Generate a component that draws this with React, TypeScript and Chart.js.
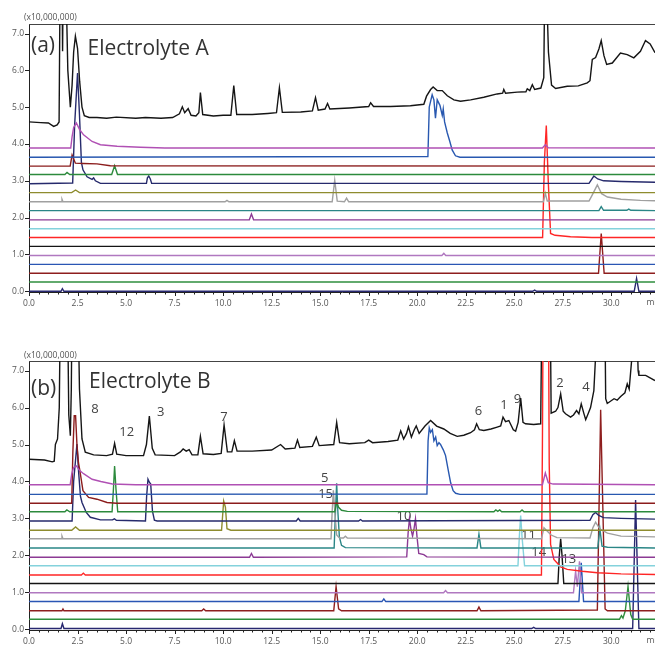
import { useEffect, useRef } from 'react';
import { Chart, registerables } from 'chart.js';
Chart.register(...registerables);

// ---------- axes ----------
const X_MAX = 32.25;
const Y_MIN = -0.02;
const Y_MAX = 7.26;
const X_MAJOR = [0, 2.5, 5, 7.5, 10, 12.5, 15, 17.5, 20, 22.5, 25, 27.5, 30];
const Y_TICKS = [0, 1, 2, 3, 4, 5, 6, 7];

// ---------- colours (top trace to bottom trace) ----------
const TIC_COLOR = '#151515';
const TRACE_COLORS = [
  '#b050b4', '#2858b0', '#8b1c1c', '#2c8a3c', '#262a6c', '#8e8c2e', '#a0a0a0', '#2a8686',
  '#8c3a94', '#84d2dc', '#ff2626', '#141414', '#b078c0', '#2a56b4', '#8e1e1e', '#2e8e3c', '#282870',
];

// ---------- Panel (a) Electrolyte A : [time, intensity(x1e7)] pairs ----------
const A_TIC = [0,4.60, 0.6,4.58, 1.0,4.57, 1.27,4.48, 1.45,4.52, 1.55,4.6, 1.61,9, 1.69,9, 1.73,6.52, 1.77,9, 1.88,9, 2.0,6.0, 2.13,5.0, 2.22,5.6, 2.3,6.5, 2.39,6.93, 2.5,6.6, 2.61,5.7, 2.73,5.0, 2.85,4.77, 3.1,4.72, 3.5,4.72, 4.0,4.70, 4.5,4.73, 5.5,4.70, 6.0,4.72, 6.8,4.70, 7.4,4.72, 7.75,4.82, 7.9,5.01, 8.02,4.85, 8.2,4.96, 8.35,4.78, 8.6,4.76, 8.75,4.85, 8.83,5.40, 8.95,4.8, 9.5,4.76, 10.0,4.78, 10.4,4.78, 10.55,5.59, 10.7,4.80, 11.5,4.80, 12.3,4.83, 12.75,4.85, 12.9,5.53, 13.05,4.86, 14.0,4.87, 14.6,4.90, 14.76,5.26, 14.9,4.92, 15.25,4.95, 15.38,5.1, 15.5,4.95, 16.5,4.98, 17.5,5.02, 17.6,5.12, 17.75,5.02, 18.62,5.02, 19.65,5.04, 20.34,5.08, 20.48,5.30, 20.69,5.48, 20.82,5.55, 21.03,5.45, 21.29,5.45, 21.55,5.31, 21.89,5.20, 22.23,5.16, 22.75,5.20, 23.43,5.27, 24.12,5.36, 24.4,5.38, 24.46,5.48, 24.55,5.38, 25.15,5.41, 25.6,5.42, 25.67,5.5, 25.8,5.45, 25.93,5.61, 26.05,5.48, 26.37,5.52, 26.52,5.8, 26.57,8.5, 26.65,8.5, 26.76,6.5, 26.92,5.6, 27.13,5.51, 27.73,5.57, 28.3,5.58, 28.76,5.66, 28.9,5.72, 29.02,6.3, 29.19,6.35, 29.36,6.58, 29.48,6.81, 29.62,6.4, 29.76,6.16, 30.05,6.2, 30.47,6.47, 30.82,6.43, 31.16,6.34, 31.5,6.52, 31.76,6.81, 32.0,6.72, 32.25,6.48];
const A_MAG = [0,3.89, 2.15,3.89, 2.22,4.2, 2.3,4.45, 2.44,4.57, 2.6,4.4, 2.81,4.25, 3.25,4.07, 3.68,3.98, 4.54,3.94, 5.74,3.91, 7,3.89, 26.45,3.89, 26.6,3.98, 26.75,3.9, 32.25,3.89];
const A_BLUE = [0,3.64, 20.55,3.66, 20.62,5.0, 20.77,5.34, 20.86,5.2, 20.94,4.70, 21.03,5.2, 21.17,5.05, 21.29,4.78, 21.34,4.95, 21.41,4.6, 21.55,4.30, 21.68,4.07, 21.8,3.84, 21.97,3.68, 22.2,3.64, 32.25,3.64];
const A_DRED = [0,3.40, 2.12,3.40, 2.22,3.70, 2.39,3.48, 2.8,3.47, 3.5,3.46, 4.19,3.41, 32.25,3.40];
const A_GRN = [0,3.17, 1.85,3.17, 1.96,3.23, 2.1,3.17, 4.26,3.17, 4.41,3.41, 4.56,3.17, 32.25,3.17];
const A_NAVY = [0,2.92, 2.25,2.94, 2.35,4.5, 2.5,5.93, 2.6,4.8, 2.7,3.5, 2.78,3.30, 2.99,3.11, 3.25,3.04, 3.33,3.08, 3.42,3.0, 3.68,2.93, 6.05,2.93, 6.1,3.08, 6.17,3.13, 6.25,3.05, 6.32,2.93, 28.85,2.93, 29.1,3.13, 29.3,3.05, 29.6,3.0, 30.5,2.98, 32.25,2.96];
const A_OLIVE = [0,2.68, 2.2,2.68, 2.4,2.75, 2.6,2.68, 32.25,2.68];
const A_GRAY = [0,2.43, 1.65,2.43, 1.7,2.5, 1.75,2.43, 10.1,2.43, 10.2,2.47, 10.3,2.43, 15.62,2.43, 15.75,3.02, 15.88,2.45, 16.25,2.43, 16.36,2.53, 16.47,2.43, 26.5,2.43, 26.6,2.66, 26.7,2.45, 28.85,2.45, 29.0,2.6, 29.28,2.89, 29.5,2.65, 29.8,2.56, 30.5,2.5, 31.5,2.47, 32.25,2.46];
const A_TEAL = [0,2.19, 29.36,2.19, 29.48,2.30, 29.6,2.2, 30.8,2.2, 30.9,2.23, 31.0,2.2, 32.25,2.19];
const A_PURP = [0,1.94, 11.35,1.94, 11.46,2.10, 11.57,1.94, 32.25,1.94];
const A_CYAN = [0,1.70, 32.25,1.70];
const A_RED = [0,1.46, 26.46,1.46, 26.55,3.5, 26.65,4.50, 26.75,3.0, 26.87,1.57, 27.1,1.52, 27.9,1.48, 29.0,1.46, 32.25,1.46];
const A_BLK = [0,1.22, 32.25,1.22];
const A_LAV = [0,0.97, 21.27,0.97, 21.37,1.03, 21.47,0.97, 32.25,0.97];
const A_BLUE2 = [0,0.73, 32.25,0.73];
const A_DRED2 = [0,0.49, 29.34,0.49, 29.48,1.57, 29.63,0.49, 32.25,0.49];
const A_GRN2 = [0,0.25, 32.25,0.25];
const A_NAVY2 = [0,0.0, 1.65,0.0, 1.72,0.07, 1.8,0.0, 25.95,0.0, 26.05,0.03, 26.15,0.0, 31.18,0.0, 31.3,0.35, 31.42,0.0, 32.25,0.0];

// ---------- Panel (b) Electrolyte B ----------
const B_TIC = [0,4.60, 0.8,4.58, 1.2,4.53, 1.3,4.55, 1.36,5.0, 1.47,5.15, 1.56,6.0, 1.62,9, 1.98,9, 2.05,5.8, 2.13,5.24, 2.18,6.5, 2.22,9, 2.52,9, 2.6,6.5, 2.73,5.15, 2.9,4.79, 3.33,4.72, 4.0,4.70, 4.3,4.74, 4.41,5.03, 4.52,4.74, 5.0,4.70, 5.9,4.70, 6.05,5.0, 6.2,5.77, 6.35,4.9, 6.5,4.72, 7.5,4.70, 7.8,4.8, 7.94,4.88, 8.1,4.82, 8.25,4.86, 8.4,4.72, 8.7,4.72, 8.83,5.22, 8.97,4.75, 9.5,4.73, 9.9,4.76, 10.05,5.53, 10.22,4.80, 10.45,4.8, 10.58,5.1, 10.72,4.82, 11.5,4.82, 12.5,4.85, 12.96,5.0, 13.2,4.88, 13.7,4.9, 13.83,5.12, 13.95,4.92, 14.6,4.95, 14.8,5.2, 14.95,4.97, 15.7,5.0, 15.85,5.6, 16.0,5.05, 16.5,5.02, 17.3,5.05, 17.5,5.12, 17.7,5.05, 18.5,5.08, 19.0,5.12, 19.15,5.37, 19.3,5.15, 19.45,5.3, 19.55,5.48, 19.7,5.2, 19.85,5.4, 19.95,5.5, 20.1,5.3, 20.4,5.5, 20.69,5.65, 21.0,5.5, 21.37,5.42, 21.7,5.3, 22.06,5.22, 22.4,5.25, 22.75,5.32, 22.95,5.4, 23.06,5.56, 23.2,5.4, 23.43,5.38, 23.8,5.42, 24.12,5.47, 24.3,5.5, 24.42,5.74, 24.55,5.62, 24.72,5.65, 24.95,5.4, 25.07,5.36, 25.2,5.6, 25.33,6.26, 25.45,5.6, 25.58,5.56, 26.0,5.54, 26.36,5.56, 26.44,9.5, 26.84,9.5, 26.9,5.85, 27.13,5.9, 27.25,6.0, 27.39,6.37, 27.52,5.9, 27.64,5.83, 27.9,5.74, 28.05,5.8, 28.21,5.92, 28.33,5.83, 28.45,6.10, 28.58,5.85, 28.68,5.67, 28.82,5.85, 28.93,6.0, 29.1,6.46, 29.2,7.5, 29.28,9.5, 29.65,9.5, 29.71,6.24, 29.79,6.11, 30.14,6.24, 30.3,6.2, 30.48,6.3, 30.7,6.4, 30.82,6.64, 30.92,6.5, 31.05,7.3, 31.15,9, 31.28,9, 31.38,7.0, 31.42,6.87, 31.77,6.87, 32.25,6.73];
const B_MAG = [0,3.91, 2.12,3.91, 2.2,4.2, 2.3,4.38, 2.44,4.42, 2.6,4.3, 2.81,4.21, 3.25,4.06, 3.7,4.0, 4.3,3.93, 5.5,3.91, 26.45,3.91, 26.6,4.23, 26.75,3.97, 27.0,3.93, 32.25,3.91];
const B_BLUE = [0,3.65, 20.5,3.66, 20.56,5.1, 20.62,5.45, 20.69,5.33, 20.78,5.4, 20.86,5.1, 20.95,5.2, 21.03,4.97, 21.12,5.05, 21.2,5.0, 21.35,4.85, 21.46,4.70, 21.6,4.3, 21.72,3.97, 21.85,3.75, 21.98,3.68, 22.2,3.65, 32.25,3.65];
const B_DRED = [0,3.41, 2.2,3.41, 2.26,4.8, 2.33,5.78, 2.4,5.78, 2.47,5.0, 2.55,4.5, 2.61,4.33, 2.78,3.75, 3.07,3.57, 3.5,3.52, 4.02,3.43, 4.5,3.41, 32.25,3.41];
const B_GRN = [0,3.18, 1.85,3.18, 1.95,3.23, 2.1,3.18, 4.28,3.18, 4.35,3.8, 4.41,4.42, 4.48,3.8, 4.57,3.18, 15.75,3.18, 15.85,3.43, 15.95,3.3, 16.1,3.22, 16.4,3.19, 23.95,3.18, 24.05,3.23, 24.15,3.19, 24.25,3.23, 24.35,3.18, 25.3,3.18, 25.4,3.23, 25.5,3.18, 32.25,3.18];
const B_NAVY = [0,2.93, 2.22,2.93, 2.3,4.0, 2.47,5.01, 2.55,4.3, 2.65,3.6, 2.73,3.43, 2.95,3.16, 3.16,3.03, 3.68,2.96, 4.3,2.96, 4.4,2.99, 4.5,2.95, 6.0,2.93, 6.06,3.6, 6.13,4.06, 6.2,3.98, 6.27,3.93, 6.36,3.2, 6.46,2.95, 6.6,2.93, 13.77,2.93, 13.87,3.0, 13.97,2.93, 16.98,2.93, 17.08,2.97, 17.18,2.93, 28.9,2.95, 29.05,3.1, 29.19,3.16, 29.35,3.08, 29.6,3.02, 30.5,3.0, 32.25,2.98];
const B_OLIVE = [0,2.68, 2.2,2.68, 2.4,2.77, 2.6,2.68, 9.92,2.68, 10.03,3.47, 10.12,3.3, 10.2,2.72, 10.4,2.68, 32.25,2.68];
const B_GRAY = [0,2.45, 1.65,2.45, 1.7,2.52, 1.75,2.45, 15.56,2.45, 15.62,3.2, 15.68,3.76, 15.75,3.2, 15.85,2.55, 16.0,2.47, 16.2,2.47, 16.3,2.52, 16.4,2.47, 26.4,2.45, 26.53,2.75, 26.65,2.68, 26.9,2.55, 27.2,2.48, 28.9,2.47, 29.05,2.75, 29.19,2.90, 29.4,2.72, 29.8,2.6, 30.5,2.52, 32.25,2.5];
const B_TEAL = [0,2.20, 15.72,2.20, 15.79,3.2, 15.85,3.95, 15.91,3.2, 15.99,2.5, 16.1,2.27, 16.3,2.21, 23.08,2.2, 23.18,2.57, 23.28,2.2, 29.3,2.2, 29.41,2.72, 29.52,2.25, 29.8,2.22, 32.25,2.2];
const B_PURP = [0,1.95, 11.36,1.95, 11.46,2.05, 11.56,1.95, 19.46,1.96, 19.53,2.6, 19.6,2.99, 19.68,2.7, 19.76,2.52, 19.83,2.7, 19.91,2.99, 19.99,2.5, 20.08,2.05, 20.34,2.02, 20.5,1.96, 32.25,1.95];
const B_CYAN = [0,1.72, 25.19,1.72, 25.26,2.5, 25.33,3.08, 25.4,2.5, 25.53,1.72, 32.25,1.72];
const B_RED = [0,1.47, 2.7,1.47, 2.8,1.52, 2.9,1.47, 26.4,1.47, 26.45,5.0, 26.5,10, 26.75,10, 26.8,4.5, 26.87,2.3, 27.04,1.89, 27.39,1.69, 27.73,1.62, 28.5,1.57, 29.28,1.53, 30.5,1.50, 32.25,1.48];
const B_BLK = [0,1.24, 27.25,1.24, 27.32,2.0, 27.39,2.45, 27.46,2.0, 27.55,1.24, 32.25,1.24];
const B_LAV = [0,0.99, 21.36,0.99, 21.46,1.05, 21.56,0.99, 28.05,0.99, 28.16,1.57, 28.25,1.15, 28.36,1.84, 28.47,0.99, 32.25,0.99];
const B_BLUE2 = [0,0.75, 18.18,0.75, 18.28,0.82, 18.38,0.75, 28.33,0.75, 28.45,1.80, 28.57,0.75, 32.25,0.75];
const B_DRED2 = [0,0.50, 1.7,0.50, 1.75,0.55, 1.8,0.5, 8.9,0.5, 9.0,0.55, 9.1,0.5, 15.7,0.5, 15.82,1.15, 15.95,0.55, 16.1,0.5, 23.08,0.5, 23.18,0.6, 23.28,0.5, 29.28,0.52, 29.45,5.94, 29.68,0.55, 29.8,0.5, 32.25,0.5];
const B_GRN2 = [0,0.27, 30.42,0.27, 30.52,0.37, 30.6,0.3, 30.72,0.5, 30.86,1.16, 31.0,0.4, 31.1,0.27, 32.25,0.27];
const B_NAVY2 = [0,0.02, 1.65,0.02, 1.72,0.15, 1.8,0.02, 25.9,0.02, 26.0,0.05, 26.1,0.02, 31.1,0.02, 31.25,3.50, 31.42,0.02, 32.25,0.02];

const A_TRACES = [A_MAG, A_BLUE, A_DRED, A_GRN, A_NAVY, A_OLIVE, A_GRAY, A_TEAL, A_PURP, A_CYAN, A_RED, A_BLK, A_LAV, A_BLUE2, A_DRED2, A_GRN2, A_NAVY2];
const B_TRACES = [B_MAG, B_BLUE, B_DRED, B_GRN, B_NAVY, B_OLIVE, B_GRAY, B_TEAL, B_PURP, B_CYAN, B_RED, B_BLK, B_LAV, B_BLUE2, B_DRED2, B_GRN2, B_NAVY2];

// peak numbers in panel (b): label, time, intensity
const B_PEAK_TEXT = ['8', '12', '3', '7', '6', '1', '9', '2', '4', '5', '15', '10', '11', '14', '13'];
const B_PEAK_T = [3.40, 5.03, 6.79, 10.05, 23.15, 24.47, 25.17, 27.35, 28.69, 15.24, 15.28, 19.32, 25.73, 26.26, 27.81];
const B_PEAK_V = [5.94, 5.33, 5.86, 5.73, 5.91, 6.05, 6.23, 6.66, 6.56, 4.09, 3.66, 3.05, 2.55, 2.09, 1.89];

const FONT = '"Open Sans", "Noto Sans", sans-serif';

function toPoints(arr: number[]) {
  const out: { x: number; y: number }[] = [];
  for (let i = 0; i < arr.length; i += 2) out.push({ x: arr[i], y: arr[i + 1] });
  return out;
}

const decor = {
  id: 'decor',
  beforeDatasetsDraw(chart: any, _args: any, opts: any) {
    const { ctx, chartArea, scales } = chart;
    ctx.save();
    ctx.strokeStyle = '#444';
    ctx.lineWidth = 1;
    ctx.beginPath();
    ctx.moveTo(chartArea.left, chartArea.top + 0.5);
    ctx.lineTo(chartArea.right, chartArea.top + 0.5);
    ctx.stroke();
    ctx.fillStyle = '#555';
    ctx.font = `8.5px ${FONT}`;
    ctx.textAlign = 'left';
    ctx.textBaseline = 'middle';
    ctx.fillText('(x10,000,000)', 24, opts.multY);
    ctx.fillStyle = '#333';
    ctx.textBaseline = 'alphabetic';
    ctx.font = `21px ${FONT}`;
    ctx.fillText(opts.letter, 31, opts.letterY);
    ctx.fillText(opts.title, opts.titleX, opts.titleY);
    ctx.font = `13px ${FONT}`;
    ctx.fillStyle = '#444';
    ctx.textAlign = 'center';
    ctx.textBaseline = 'middle';
    const txt: string[] = opts.peakText || [];
    for (let i = 0; i < txt.length; i++) {
      ctx.fillText(txt[i], scales.x.getPixelForValue(opts.peakT[i]), scales.y.getPixelForValue(opts.peakV[i]));
    }
    ctx.restore();
  },
  afterDraw(chart: any) {
    const { ctx, chartArea, scales } = chart;
    ctx.save();
    ctx.strokeStyle = '#222';
    ctx.lineWidth = 1;
    ctx.beginPath();
    for (let k = 0; k <= 64; k++) {
      const v = k * 0.5;
      const px = Math.round(scales.x.getPixelForValue(v)) + 0.5;
      const major = k % 5 === 0;
      ctx.moveTo(px, chartArea.bottom);
      ctx.lineTo(px, chartArea.bottom + (major ? 4 : 2.5));
    }
    for (const v of Y_TICKS) {
      const py = Math.round(scales.y.getPixelForValue(v)) + 0.5;
      ctx.moveTo(chartArea.left - 4, py);
      ctx.lineTo(chartArea.left, py);
    }
    ctx.stroke();
    ctx.fillStyle = '#555';
    ctx.font = `8.5px ${FONT}`;
    ctx.textAlign = 'left';
    ctx.textBaseline = 'middle';
    ctx.fillText('min', 646.5, chartArea.bottom + 11);
    ctx.restore();
  },
};

function makeChart(canvas: HTMLCanvasElement, tic: number[], traces: number[][], deco: any, padBottom: number) {
  const datasets = [tic, ...traces].map((arr, i) => ({
    data: toPoints(arr),
    borderColor: i === 0 ? TIC_COLOR : TRACE_COLORS[i - 1],
    borderWidth: 1.4,
    pointRadius: 0,
    fill: false,
    tension: 0,
  }));
  return new Chart(canvas, {
    type: 'line',
    data: { datasets },
    plugins: [decor],
    options: {
      animation: false,
      responsive: false,
      devicePixelRatio: 1,
      events: [],
      layout: { padding: { top: 24, right: 0, bottom: padBottom, left: 0 } },
      plugins: { legend: { display: false }, tooltip: { enabled: false }, decor: deco } as any,
      scales: {
        x: {
          type: 'linear',
          min: 0,
          max: X_MAX,
          afterBuildTicks: (s: any) => { s.ticks = X_MAJOR.map((v) => ({ value: v })); },
          afterFit: (s: any) => { s.height = 15; },
          grid: { display: false, drawTicks: false },
          border: { display: true, color: '#222', width: 1 },
          ticks: {
            autoSkip: false,
            maxRotation: 0,
            padding: 6,
            color: '#555',
            font: { family: FONT, size: 8.5 },
            callback: (v: any) => Number(v).toFixed(1),
          },
        },
        y: {
          type: 'linear',
          min: Y_MIN,
          max: Y_MAX,
          afterBuildTicks: (s: any) => { s.ticks = Y_TICKS.map((v) => ({ value: v })); },
          afterFit: (s: any) => { s.width = 29; },
          grid: { display: false, drawTicks: false },
          border: { display: true, color: '#222', width: 1 },
          ticks: {
            padding: 5,
            color: '#555',
            font: { family: FONT, size: 8.5 },
            callback: (v: any) => Number(v).toFixed(1),
          },
        },
      },
    } as any,
  });
}

export default function App() {
  const refA = useRef<HTMLCanvasElement>(null);
  const refB = useRef<HTMLCanvasElement>(null);
  useEffect(() => {
    const a = makeChart(refA.current!, A_TIC, A_TRACES, {
      multY: 18, letter: '(a)', letterY: 51.5, title: 'Electrolyte A', titleX: 87.5, titleY: 55,
    }, 30);
    const b = makeChart(refB.current!, B_TIC, B_TRACES, {
      multY: 18.5, letter: '(b)', letterY: 57.5, title: 'Electrolyte B', titleX: 89, titleY: 50.5,
      peakText: B_PEAK_TEXT, peakT: B_PEAK_T, peakV: B_PEAK_V,
    }, 0);
    return () => { a.destroy(); b.destroy(); };
  }, []);
  return (
    <div style={{ position: 'absolute', left: 0, top: 0, width: 655, height: 645, background: '#fff', overflow: 'hidden' }}>
      <canvas ref={refA} width={655} height={337} style={{ position: 'absolute', left: 0, top: 0 }} />
      <canvas ref={refB} width={655} height={308} style={{ position: 'absolute', left: 0, top: 337 }} />
    </div>
  );
}
